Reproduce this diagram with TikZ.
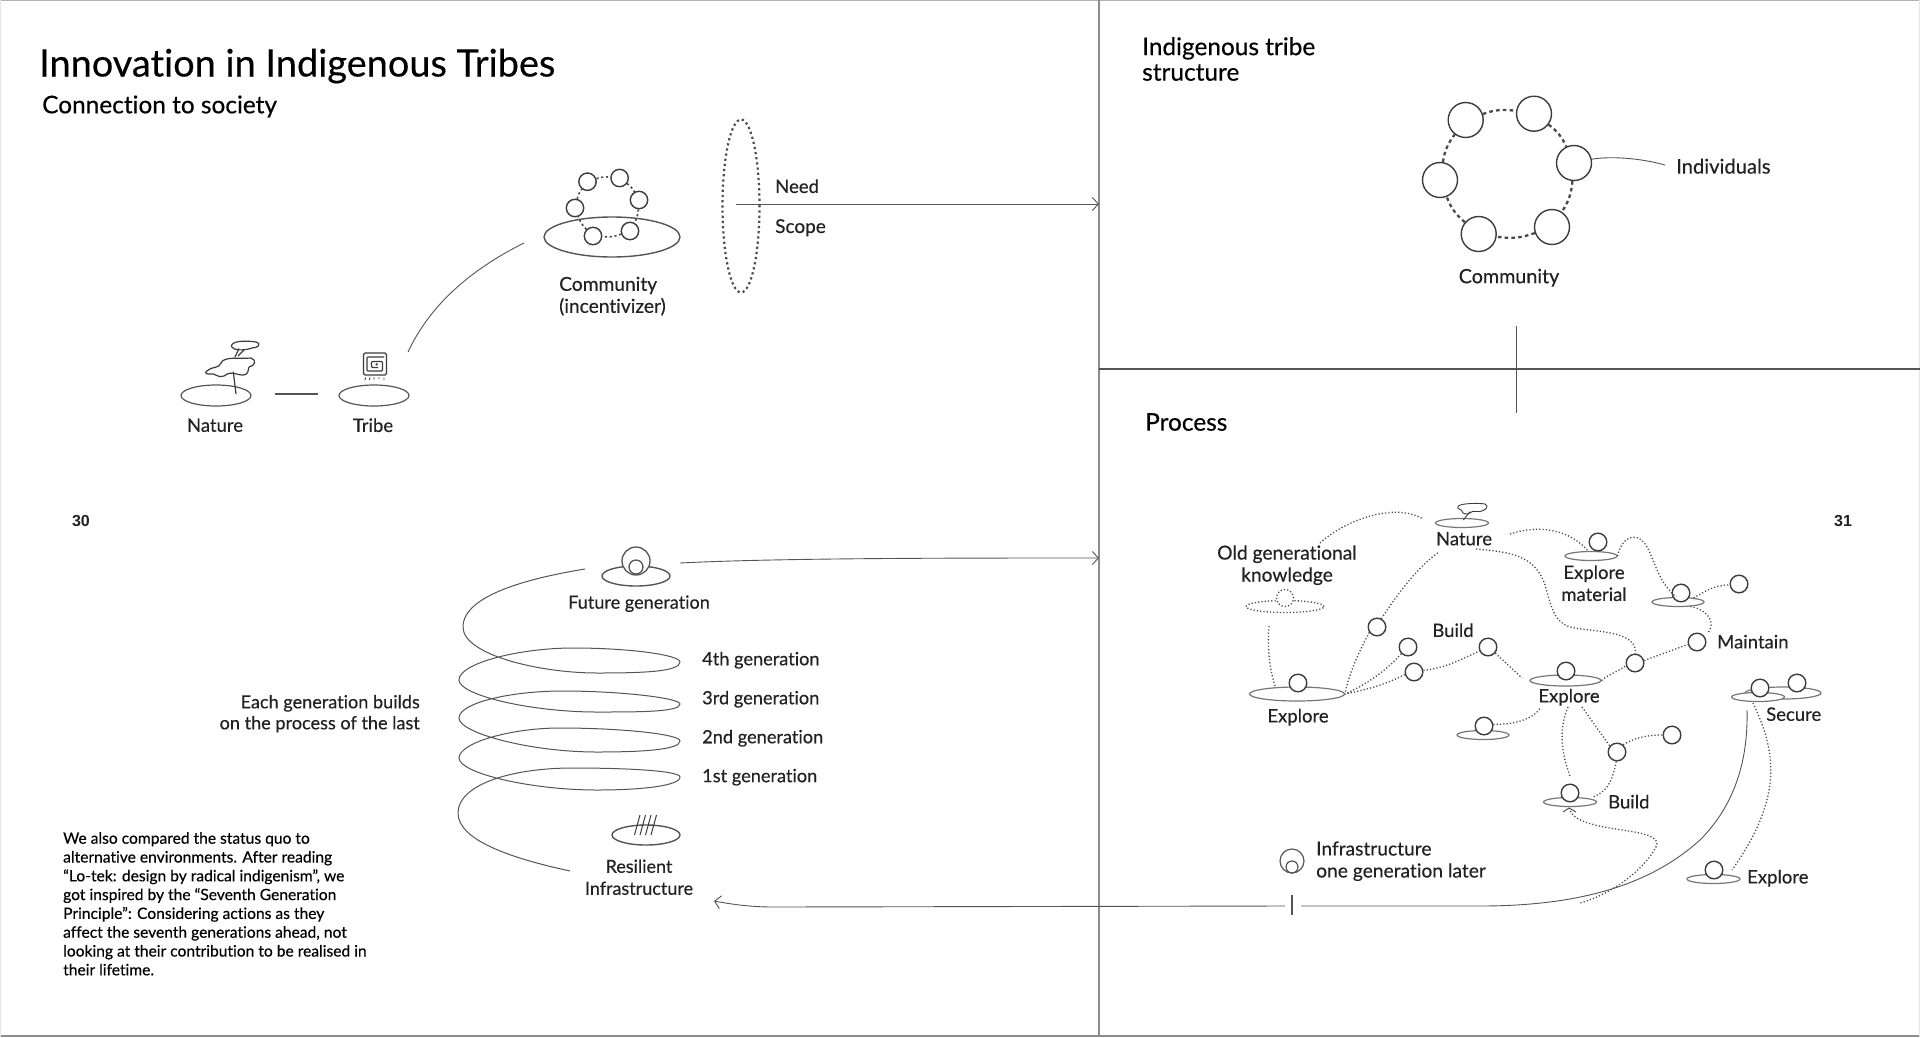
\documentclass[tikz,border=0pt]{standalone}
\usepackage{fontspec}
\setmainfont{Lato}[Ligatures={NoCommon},FakeBold=0.35]
\newfontfamily\numfont{Liberation Sans}
\usetikzlibrary{shapes.geometric,arrows.meta}
\definecolor{ink}{HTML}{222222}
\definecolor{lineg}{HTML}{555555}
\definecolor{frame}{HTML}{8C8C8C}
\definecolor{dotc}{HTML}{4A4A4A}
\definecolor{soft}{HTML}{777777}
\tikzset{
  x=1pt,y=-1pt,
  lab/.style={inner sep=0,yshift=-0.2pt,text=ink,font=\fontsize{18.5}{22}\selectfont,align=center},
  labl/.style={lab,anchor=west,align=left},
  head/.style={inner sep=0,text=black,anchor=west,align=left,font=\fontsize{24.4}{25.5}\selectfont},
  gr/.style={ellipse,draw=lineg,line width=1.2,inner sep=0,minimum width=#1},
  gp/.style={gr=#1,draw=soft},
  ball/.style={circle,draw=lineg!70!black,fill=white,line width=1.4,inner sep=0,minimum size=#1},
  ball/.default=17.6,
  dots/.style={draw=dotc,line width=1.3,dash pattern=on 1.2pt off 2.1pt},
  ring/.style={draw=dotc,line width=2.3,dash pattern=on 3.6pt off 3.2pt},
  wire/.style={draw=lineg,line width=0.9},
  frameline/.style={draw=frame,line width=1.4},
  openarrow/.style={-{Straight Barb[length=6pt,width=13pt,line width=0.9pt]}},
  icon/.style={draw=lineg!70!black,line width=1.2,line join=round},
  pagenum/.style={inner sep=0,font=\fontsize{16}{18}\selectfont\numfont\bfseries,text=ink},
}
\begin{document}
\begin{tikzpicture}
\useasboundingbox (0,0) rectangle (1920,1037);
\fill[white] (0,0) rectangle (1920,1037);
% frame
\draw[draw=black!30,line width=1.4] (0,0.5) -- (1920,0.5);
\draw[frameline,line width=2] (0,1036) -- (1920,1036);
\draw[draw=black!10,line width=1] (1919.5,0) -- (1919.5,1037);
\draw[draw=black!10,line width=1] (0.5,0) -- (0.5,1037);
\draw[frameline] (1099,0) -- (1099,1037);
\draw[frameline,draw=lineg] (1099,369) -- (1920,369);
\draw[frameline,draw=lineg,line width=1] (1516,326) -- (1516,413);

% headings
\node[inner sep=0,anchor=west,text=black,font=\fontsize{37.9}{40}\selectfont] (title) at (39,66) {Innovation in Indigenous Tribes};
\node[head] (sub) at (42,106.5) {Connection to society};
\node[head] (struct) at (1142,59) {Indigenous tribe\\structure};
\node[head] (proc) at (1145,422) {Process};
\node[pagenum] (p30) at (81,520.5) {30};
\node[pagenum] (p31) at (1843,520.5) {31};

% Nature & tribe
\node[gr=70,minimum height=21] (natE) at (216,395.5) {};
\node[gr=70,minimum height=21] (triE) at (374,395.5) {};
\node[lab] (natL) at (215,425) {Nature};
\node[lab] (triL) at (373,425) {Tribe};
\coordinate (natR) at (275,394);
\coordinate (triLft) at (318,394);
\draw[wire,line width=1.1] (natR) -- (triLft);
\draw[icon] (236,394) -- (233.3,371.7);
\draw[icon] (207.3,370.7) .. controls (212,366) and (219,369) .. (221,363) .. controls (224,356) and (240,359) .. (251,358) .. controls (257,360) and (255,366) .. (249,367) .. controls (247,370) and (250,374) .. (243,375) .. controls (235,375) and (232,370) .. (224,376) .. controls (218,379) and (215,372) .. (209,374) .. controls (205,374) and (205,372) .. (207.3,370.7) -- cycle;
\draw[icon] (231.7,345) .. controls (234,340) and (250,341) .. (256,342) .. controls (262,344) and (258,348) .. (252,348) .. controls (247,350) and (236,351) .. (233,348) .. controls (231,347) and (231,346) .. (231.7,345) -- cycle;
\draw[icon] (235,357) -- (239,348.5) (238,356) -- (244,350);
\draw[icon,rounded corners=1.5] (363.5,353) rectangle (386.5,375);
\draw[icon,rounded corners=1] (384,357) -- (367,357) -- (367,371) -- (382.5,371) -- (382.5,361.5) -- (371.5,361.5) -- (371.5,367.5) -- (378,367.5);
\fill[lineg] (376.7,364.3) circle (1.4);
\draw[icon,line width=0.9] (365,380) -- (365.5,377.5) (369.5,380) -- (370,377.5) (374,379.5) -- (374,377) (379,379) -- (379,377) (384,380) -- (384,377.5);

% Community (incentivizer)
\node[gr=136,minimum height=40,line width=1.4] (comE) at (612,237) {};
\foreach \n/\x/\y in {a/587.5/181.7,b/619.6/178,c/639/200,d/630/231,e/593/236,f/575/208}
  \node[ball=17.4] (s\n) at (\x,\y) {};
\foreach \p/\q in {a/b,b/c,c/d,d/e,e/f,f/a}
  \draw[draw=dotc,line width=1.6,dash pattern=on 2.2pt off 2.6pt] (s\p) to[bend left=12] (s\q);
\node[lab,anchor=west,align=left,font=\fontsize{19.2}{22}\selectfont] (comL) at (559,296) {Community\\(incentivizer)};
\coordinate (triUp) at (408,352);
\coordinate (comLft) at (524,243);
\draw[wire] (triUp) .. controls (430,305) and (470,270) .. (comLft);

% Need / Scope
\node[ellipse,draw=dotc,line width=2.2,dash pattern=on 2.2pt off 3pt,inner sep=0,minimum width=37,minimum height=173] (ns) at (741,206) {};
\node[labl] (need) at (775,186) {Need};
\node[labl,font=\fontsize{19}{22}\selectfont] (scope) at (775,227.5) {Scope};
\coordinate (nsC) at (736,204);
\coordinate (toStruct) at (1099,204);
\draw[wire,openarrow] (nsC) -- (toStruct);

% Community structure
\foreach \n/\x/\y in {a/1465.7/120,b/1534/113.7,c/1574/163,d/1552/227,e/1478.7/234,f/1440/180}
  \node[ball=35] (t\n) at (\x,\y) {};
\foreach \p/\q in {a/b,b/c,c/d,d/e,e/f,f/a}
  \draw[ring] (t\p) to[bend left=14] (t\q);
\node[labl,font=\fontsize{20.2}{22}\selectfont] (indiv) at (1676,166) {Individuals};
\coordinate (indivL) at (1665,165);
\draw[wire] (tc.12) .. controls (1610,156) and (1640,158) .. (indivL);
\node[lab,font=\fontsize{19.7}{22}\selectfont] (comT) at (1509,277.5) {Community};

% Spiral
\node[gr=68,minimum height=20,line width=1.4] (futE) at (636,576) {};
\node[circle,draw=lineg,fill=white,line width=1.3,inner sep=0,minimum size=28] (futO) at (636,561) {};
\node[circle,draw=lineg,fill=white,line width=1.3,inner sep=0,minimum size=14] (futI) at (636,567) {};
\node[lab,font=\fontsize{18.1}{22}\selectfont] (futL) at (639,603.5) {Future generation};
\coordinate (spA) at (585,569);
\coordinate (spZ) at (570,871);
\draw[wire,line width=1] (spA) .. controls (530,578) and (463,595) .. (463,627)
 .. controls (463,655) and (540,673) .. (597,673)
 .. controls (640,673) and (680,672) .. (680,662)
 .. controls (680,655) and (630,648) .. (573,648)
 .. controls (520,648) and (459,663) .. (459,680)
 .. controls (459,695) and (530,712) .. (597,712)
 .. controls (640,712) and (680,712) .. (680,704)
 .. controls (680,698) and (620,691) .. (563,691)
 .. controls (510,691) and (459,703) .. (459,718)
 .. controls (459,733) and (530,752) .. (597,752)
 .. controls (640,752) and (680,750) .. (680,741)
 .. controls (680,734) and (620,728) .. (560,728)
 .. controls (510,728) and (459,743) .. (459,758)
 .. controls (459,773) and (530,790) .. (597,790)
 .. controls (640,790) and (680,786) .. (680,777)
 .. controls (680,771) and (630,768) .. (573,768)
 .. controls (510,768) and (458,785) .. (458,813)
 .. controls (458,840) and (510,858) .. (spZ);
\tikzset{genlab/.style={labl,font=\fontsize{18.2}{22}\selectfont}}
\node[genlab] (g4) at (702,660) {4th generation};
\node[genlab] (g3) at (702,699) {3rd generation};
\node[genlab] (g2) at (702,738) {2nd generation};
\node[genlab] (g1) at (702,777) {1st generation};
\node[gr=68,minimum height=20,line width=1.4] (resE) at (646,835) {};
\foreach \d in {0,5.5,11,16.5} \draw[icon,line width=1] (640+\d,815) -- (634.5+\d,835);
\node[lab,font=\fontsize{18}{22}\selectfont] (resL) at (639,877) {Resilient\\Infrastructure};
\node[lab,align=right,anchor=east,font=\fontsize{18.1}{21}\selectfont] (eachL) at (420,713.5) {Each generation builds\\on the process of the last};
\node[inner sep=0,anchor=north west,align=left,text=black,font=\fontsize{15.6}{18.8}\selectfont] (para) at (63,832) {We also compared the status quo to\\alternative environments. After reading\\“Lo-tek: design by radical indigenism”, we\\got inspired by the “Seventh Generation\\Principle”: Considering actions as they\\affect the seventh generations ahead, not\\looking at their contribution to be realised in\\their lifetime.};
\coordinate (futR) at (680,563);
\coordinate (toProc) at (1099,558);
\draw[wire,openarrow] (futR) .. controls (780,558) and (950,558) .. (toProc);

% Process: grounds
\node[gp=53,minimum height=9] (pNatE) at (1462,523) {};
\draw[icon,line width=0.9] (1463.3,520) -- (1470,511.7);
\draw[icon,line width=0.9] (1458.3,506) .. controls (1462,503) and (1480,503) .. (1485,504) .. controls (1489,506) and (1487,510) .. (1480,511.5) .. controls (1476,512) and (1473,510) .. (1470,513) .. controls (1467,515) and (1462,514) .. (1462,511) .. controls (1461,509) and (1456,509) .. (1458.3,506) -- cycle;
\node[lab] (pNatL) at (1464,538.5) {Nature};
\node[lab,font=\fontsize{19.2}{22}\selectfont] (oldL) at (1287,565) {Old generational\\knowledge};
\node[ellipse,dots,inner sep=0,minimum width=78,minimum height=12] (oldE) at (1285,606.5) {};
\node[circle,fill=white,dots,inner sep=0,minimum size=17] (oldC) at (1285,598) {};
\node[gp=95,minimum height=14] (ex1E) at (1297,694) {};
\node[ball] (ex1C) at (1298,683) {};
\node[lab] (ex1L) at (1298,717) {Explore};
\node[ball] (A) at (1377,627) {};
\node[ball] (B) at (1408,647) {};
\node[ball] (C) at (1414,672) {};
\node[ball] (D) at (1488,647) {};
\node[lab] (bldL) at (1453,630) {Build};
\node[gp=71,minimum height=11] (ex2E) at (1565.5,680.5) {};
\node[ball] (ex2C) at (1566,671) {};
\node[lab] (ex2L) at (1569,697) {Explore};
\node[gp=52,minimum height=9] (smE) at (1483,735) {};
\node[ball] (smC) at (1484,726) {};
\node[ball] (E) at (1635,663) {};
\node[gp=52,minimum height=9] (emE) at (1591,556) {};
\node[ball] (emC) at (1598,542) {};
\node[lab] (emL) at (1594,583) {Explore\\material};
\node[gp=52,minimum height=9] (upE) at (1678,602) {};
\node[ball] (upC) at (1681,593) {};
\node[ball] (upD) at (1739,584) {};
\node[ball] (M) at (1697,642) {};
\node[labl] (mL) at (1717,641.5) {Maintain};
\node[ball] (F) at (1617,752) {};
\node[ball] (G) at (1672,735) {};
\node[gp=53,minimum height=9] (bE) at (1570,802) {};
\node[ball] (bC) at (1570,793) {};
\node[labl] (bL) at (1608,801.5) {Build};
\node[gp=76,minimum height=12] (seF) at (1783,693) {};
\node[gp=53,minimum height=9,fill=white] (seG) at (1758,697) {};
\node[ball] (seC) at (1760,688) {};
\node[ball] (seD) at (1797,683) {};
\node[labl] (seL) at (1766,714) {Secure};
\node[gp=53,minimum height=9] (exbE) at (1713.5,879) {};
\node[ball] (exbC) at (1714,870) {};
\node[labl] (exbL) at (1747,878) {Explore};
% infrastructure one generation later
\node[circle,draw=lineg,line width=1.2,inner sep=0,minimum size=24] (infO) at (1292,861) {};
\node[circle,draw=lineg,line width=1.2,inner sep=0,minimum size=12] (infI) at (1292,867) {};
\node[labl,font=\fontsize{19.2}{22}\selectfont] (infL) at (1316,861) {Infrastructure\\one generation later};

% process free ends
\coordinate (oldUp) at (1320,543);
\coordinate (natLft) at (1423,519);
\coordinate (natLow) at (1439,552);
\coordinate (natRgt) at (1476,549);
\coordinate (natEx) at (1510,534);
\coordinate (oldDn) at (1269,626);
\coordinate (ex2Lft) at (1522,678);
\coordinate (ex2Dl) at (1540,708);
\coordinate (ex2Dm) at (1568,707);
\coordinate (ex2Dr) at (1582,707);
\coordinate (bUp) at (1570,776);
\coordinate (bRt) at (1593,797);
\coordinate (mTop) at (1708,633);
\coordinate (seDn) at (1753,703);
\coordinate (exbUp) at (1732,870);
\coordinate (bTip) at (1569,808);
\coordinate (tickL) at (1285,906);
\coordinate (tickR) at (1301,906);
\coordinate (curveEnd) at (1747,710);
\coordinate (mergePt) at (1580,903);
\coordinate (resArrow) at (714,901);

% process dotted connectors
\draw[dots] (oldUp) .. controls (1345,520) and (1395,502) .. (natLft);
\draw[dots] (oldDn) .. controls (1267,650) and (1270,670) .. (1275,686);
\draw[dots] (A.62) .. controls (1400,590) and (1420,565) .. (natLow);
\draw[dots] (A.215) .. controls (1360,650) and (1348,675) .. (ex1E.east);
\draw[dots] (B.225) .. controls (1385,672) and (1365,685) .. (ex1E.east);
\draw[dots] (C.195) .. controls (1385,685) and (1365,690) .. (ex1E.east);
\draw[dots] (C.10) .. controls (1445,668) and (1460,660) .. (D.205);
\draw[dots] (D.-40) -- (ex2Lft);
\draw[dots] (smC.10) .. controls (1515,725) and (1535,718) .. (ex2Dl);
\draw[dots] (ex2E.east) .. controls (1610,673) and (1618,672) .. (E.195);
\draw[dots] (natRgt) .. controls (1510,552) and (1535,555) .. (1545,585) .. controls (1552,610) and (1555,625) .. (1575,628) .. controls (1600,632) and (1638,632) .. (E.88);
\draw[dots] (natEx) .. controls (1540,524) and (1570,530) .. (emE.120);
\draw[dots] (emE.east) .. controls (1622,535) and (1640,528) .. (1650,553) .. controls (1657,570) and (1662,585) .. (upE.110);
\draw[dots] (upE.15) .. controls (1708,590) and (1712,586) .. (upD.185);
\draw[dots] (upE.-20) .. controls (1708,610) and (1716,622) .. (mTop);
\draw[dots] (E.15) -- (M.195);
\draw[dots] (ex2Dm) .. controls (1558,730) and (1562,755) .. (bUp);
\draw[dots] (ex2Dr) -- (F.140);
\draw[dots] (F.50) .. controls (1635,738) and (1645,735) .. (G.180);
\draw[dots] (F.265) .. controls (1612,785) and (1605,792) .. (bRt);
\draw[dots] (seDn) .. controls (1775,750) and (1785,795) .. (exbUp);
\draw[dots] (bTip) .. controls (1576,835) and (1660,825) .. (1657,845) .. controls (1645,870) and (1610,895) .. (mergePt);
\draw[wire,line width=1] (1563,812) -- (bTip) -- (1576,812);

% long return wire
\draw[wire] (tickR) -- (1480,906) .. controls (1580,906) and (1650,885) .. (1700,840) .. controls (1740,800) and (1748,750) .. (curveEnd);
\draw[wire,line width=1.2] (1292,895) -- (1292,915);
\draw[wire,openarrow] (tickL) -- (773,907) .. controls (750,907) and (730,904) .. (resArrow);
\end{tikzpicture}
\end{document}
